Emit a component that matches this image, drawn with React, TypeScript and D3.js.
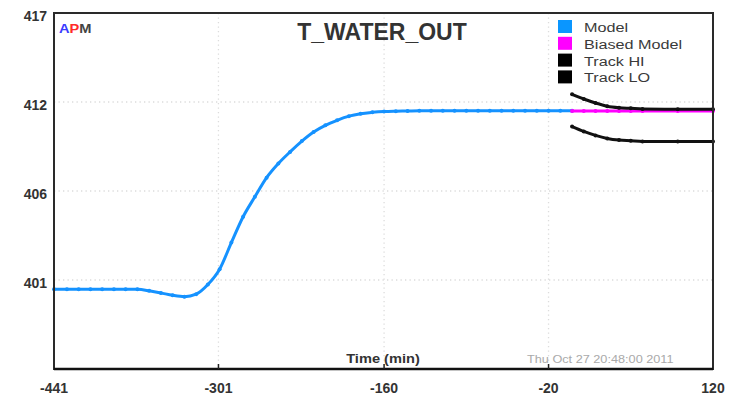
import React from "react";
import * as d3 from "d3";

// Time axis (minutes relative to now)
const xTickValues = [-441, -301, -160, -20, 120];
// Value axis: evenly spaced ticks, labelled rounded
const yTickValues = [395.6, 400.95, 406.3, 411.65, 417.0];
const yTickLabels = ["", "401", "406", "412", "417"];

// Model prediction history
const modelTime = [
  -441, -430, -420, -410, -400, -390, -380, -370, -360, -350, -340, -330, -320, -310,
  -300, -290, -280, -270, -260, -250, -240, -230, -220, -210, -200, -190, -180, -170,
  -160, -150, -140, -130, -120, -110, -100, -90, -80, -70, -60, -50, -40, -30, -20, -10, 0,
];
const modelValue = [
  400.4, 400.4, 400.4, 400.4, 400.4, 400.4, 400.4, 400.39, 400.3, 400.17, 400.03, 399.95, 400.1, 400.68,
  401.6, 403.2, 404.75, 405.95, 407.1, 407.95, 408.65, 409.3, 409.85, 410.25, 410.55, 410.8, 410.95, 411.03,
  411.08, 411.1, 411.11, 411.12, 411.12, 411.12, 411.12, 411.12, 411.12, 411.12, 411.12, 411.12, 411.12, 411.12, 411.12, 411.12, 411.12,
];

// Forecast horizon series
const futureTime = [0, 10, 20, 30, 40, 50, 60, 90, 120];
const biasedValue = [411.11, 411.11, 411.11, 411.11, 411.11, 411.11, 411.11, 411.11, 411.11];
const trackHiValue = [412.11, 411.83, 411.59, 411.4, 411.31, 411.27, 411.23, 411.22, 411.22];
const trackLoValue = [410.17, 409.88, 409.64, 409.46, 409.36, 409.32, 409.28, 409.27, 409.27];

const legendNames = ["Model", "Biased Model", "Track HI", "Track LO"];
const legendColors = ["#0a96ff", "#ff00ff", "#000000", "#000000"];

const W = 729;
const H = 396;
const left = 54;
const right = 713;
const top = 13;
const bottom = 369;

const FONT = "'Liberation Sans', Arial, Helvetica, sans-serif";

function StretchText({ x, y, sx = 1.22, anchor = "start", children, ...rest }: any) {
  return (
    <text transform={`translate(${x},${y}) scale(${sx},1)`} textAnchor={anchor} {...rest}>
      {children}
    </text>
  );
}

export default function App() {
  const x = d3.scaleLinear().domain([-441, 120]).range([left, right]);
  const y = d3.scaleLinear().domain([395.6, 417.0]).range([bottom, top]);

  const line = d3
    .line<[number, number]>()
    .x((d) => x(d[0]))
    .y((d) => y(d[1]))
    .curve(d3.curveMonotoneX);

  const modelPts: [number, number][] = modelTime.map((t, i) => [t, modelValue[i]]);
  const biasedPts: [number, number][] = futureTime.map((t, i) => [t, biasedValue[i]]);
  const hiPts: [number, number][] = futureTime.map((t, i) => [t, trackHiValue[i]]);
  const loPts: [number, number][] = futureTime.map((t, i) => [t, trackLoValue[i]]);

  const series = [
    { pts: modelPts, color: "#1592ff" },
    { pts: biasedPts, color: "#ff00ff" },
    { pts: hiPts, color: "#111111" },
    { pts: loPts, color: "#111111" },
  ];

  const innerX = xTickValues.slice(1, -1);
  const innerY = yTickValues.slice(1, -1);

  return (
    <svg width={W} height={H} style={{ position: "absolute", left: 0, top: 0, background: "#fff" }}>
      <rect x={0} y={0} width={W} height={H} fill="#fff" />

      {/* grid */}
      <g stroke="#dcdcdc" strokeWidth={1.3} strokeDasharray="1.3,3.2">
        {innerX.map((v) => (
          <line key={"gx" + v} x1={x(v)} x2={x(v)} y1={top} y2={bottom} />
        ))}
        {innerY.map((v) => (
          <line key={"gy" + v} x1={left} x2={right} y1={y(v)} y2={y(v)} />
        ))}
      </g>

      {/* series */}
      {series.map((s, i) => (
        <g key={"s" + i}>
          <path d={line(s.pts) || ""} fill="none" stroke={s.color} strokeWidth={3} strokeLinejoin="round" />
          {s.pts.map((p, j) => (
            <circle key={j} cx={x(p[0])} cy={y(p[1])} r={2} fill={s.color} />
          ))}
        </g>
      ))}

      {/* frame */}
      <rect x={left} y={top} width={right - left} height={bottom - top} fill="none" stroke="#2a2a2a" strokeWidth={2} />
      <line x1={left} x2={right} y1={bottom} y2={bottom} stroke="#111" strokeWidth={2.5} />
      {innerX.map((v) => (
        <line key={"tk" + v} x1={x(v)} x2={x(v)} y1={bottom} y2={bottom - 5} stroke="#222" strokeWidth={1.5} />
      ))}

      {/* tick labels */}
      <g fontFamily={FONT} fontWeight="bold" fontSize={14} fill="#333">
        {xTickValues.map((v) => (
          <text key={"xl" + v} x={x(v)} y={393} textAnchor="middle">
            {String(v)}
          </text>
        ))}
        {yTickValues.map((v, i) => (
          <text key={"yl" + v} x={47} y={y(v) + 7.5} textAnchor="end">
            {yTickLabels[i]}
          </text>
        ))}
      </g>

      {/* title */}
      <text x={382} y={40} textAnchor="middle" fontFamily={FONT} fontWeight="bold" fontSize={23} fill="#333">
        T_WATER_OUT
      </text>

      {/* APM mark */}
      <StretchText x={59} y={33} fontFamily={FONT} fontWeight="bold" fontSize={12}>
        <tspan fill="#3b3bff">A</tspan>
        <tspan fill="#ff2a2a">P</tspan>
        <tspan fill="#444">M</tspan>
      </StretchText>

      {/* axis caption and timestamp */}
      <StretchText x={383} y={363} anchor="middle" fontFamily={FONT} fontWeight="bold" fontSize={12} fill="#333">
        Time (min)
      </StretchText>
      <StretchText x={527} y={363} fontFamily={FONT} fontSize={10} fill="#aaaaaa" sx={1.27}>
        Thu Oct 27 20:48:00 2011
      </StretchText>

      {/* legend */}
      <g>
        {legendNames.map((name, i) => {
          const by = 32 + i * 16.8;
          return (
            <g key={name}>
              <rect x={558} y={by - 12} width={14} height={13} fill={legendColors[i]} />
              <StretchText x={584} y={by} fontFamily={FONT} fontSize={13.5} fill="#3a3a3a" sx={1.2}>
                {name}
              </StretchText>
            </g>
          );
        })}
      </g>
    </svg>
  );
}
